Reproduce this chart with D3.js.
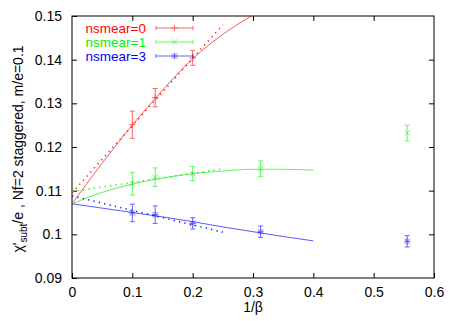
<!DOCTYPE html>
<html>
<head>
<meta charset="utf-8">
<script src="https://cdn.jsdelivr.net/npm/d3@7"></script>
<style>
  body { margin: 0; background: #fff; }
  svg { display: block; }
  text { font-family: "Liberation Sans", Arial, Helvetica, sans-serif; }
</style>
</head>
<body>
<svg width="458" height="321"></svg>
<script>
// data points (1/beta, value, error)
const invBeta = [0.1, 0.1379, 0.2, 0.3125, 0.5556];
const smear0Val = [0.1251, 0.1313, 0.1404];
const smear0Err = [0.0031, 0.0021, 0.0017];
const smear1Val = [0.1116, 0.1131, 0.1139, 0.1150, 0.1232];
const smear1Err = [0.0026, 0.0021, 0.0016, 0.0018, 0.0018];
const smear3Val = [0.1049, 0.1045, 0.1025, 0.1006, 0.0984];
const smear3Err = [0.0020, 0.0020, 0.0013, 0.0013, 0.0013];

// fit curves
const fitX = [0, 0.05, 0.1, 0.15, 0.2, 0.25, 0.3, 0.35, 0.4];
const fit0 = [0.107, 0.1163, 0.1250, 0.1330, 0.1402, 0.1458, 0.1502, 0.1538, 0.157];
const fit1 = [0.107, 0.1096, 0.1115, 0.1129, 0.1139, 0.1145, 0.1149, 0.1149, 0.1147];
const fit3 = [0.107, 0.1060, 0.1050, 0.1040, 0.1029, 0.1017, 0.1006, 0.0995, 0.0985];
const linX = [0, 0.25];
const lin0 = [0.1095, 0.1480];
const lin1 = [0.1098, 0.1150];
const lin3 = [0.1088, 0.1005];

const legendNames = ["nsmear=0", "nsmear=1", "nsmear=3"];
const xTicks = [0, 0.1, 0.2, 0.3, 0.4, 0.5, 0.6];
const yTicks = [0.09, 0.1, 0.11, 0.12, 0.13, 0.14, 0.15];

const chart = () => {
    const margin = { top: 16, right: 24, bottom: 43, left: 72 };
    const width = 458, height = 321;

    const svg = d3.select("svg");

    const x = d3.scaleLinear().domain([0, 0.6]).range([margin.left, width - margin.right]);
    const y = d3.scaleLinear().domain([0.09, 0.15]).range([height - margin.bottom, margin.top]);

    svg.append("clipPath").attr("id", "clip")
      .append("rect")
        .attr("x", x(0)).attr("y", y(0.15))
        .attr("width", x(0.6) - x(0)).attr("height", y(0.09) - y(0.15));

    // axes, gnuplot style: ticks inside, mirrored
    svg.append("g")
        .attr("transform", `translate(0,${y(0.09)})`)
        .call(d3.axisBottom(x).tickValues(xTicks).tickSize(-5).tickPadding(9).tickFormat(d3.format("")))
        .call(g => g.select(".domain").remove());
    svg.append("g")
        .attr("transform", `translate(0,${y(0.15)})`)
        .call(d3.axisTop(x).tickValues(xTicks.slice(1, -1)).tickSize(-5).tickFormat(""))
        .call(g => g.select(".domain").remove());
    svg.append("g")
        .attr("transform", `translate(${x(0)},0)`)
        .call(d3.axisLeft(y).tickValues(yTicks).tickSize(-5).tickPadding(10).tickFormat(d3.format("")))
        .call(g => g.select(".domain").remove());
    svg.append("g")
        .attr("transform", `translate(${x(0.6)},0)`)
        .call(d3.axisRight(y).tickValues(yTicks.slice(1, -1)).tickSize(-5).tickFormat(""))
        .call(g => g.select(".domain").remove());

    svg.selectAll(".tick text").attr("font-size", 14).attr("fill", "#000")
        .style("font-family", "'Liberation Sans', Arial, sans-serif");
    svg.selectAll(".tick line").attr("stroke", "#000");

    svg.append("rect")
        .attr("x", x(0)).attr("y", y(0.15))
        .attr("width", x(0.6) - x(0)).attr("height", y(0.09) - y(0.15))
        .attr("fill", "none").attr("stroke", "#000");

    // axis labels
    svg.append("text")
        .attr("x", x(0.3)).attr("y", 312)
        .attr("text-anchor", "middle").attr("font-size", 14)
        .text("1/β");

    const yl = svg.append("text")
        .attr("transform", `translate(23,${(y(0.09) + y(0.15)) / 2 + 2}) rotate(-90)`)
        .attr("text-anchor", "middle").attr("font-size", 14);
    yl.append("tspan").text("χ'");
    yl.append("tspan").attr("font-size", 10).attr("dy", 4).text("subt");
    yl.append("tspan").attr("dy", -4).text("/e ,  Nf=2 staggered, m/e=0.1");

    const series = [
        { name: legendNames[0], color: "#ff0000", vals: smear0Val, errs: smear0Err, fit: fit0, lin: lin0, sym: "plus" },
        { name: legendNames[1], color: "#00f000", vals: smear1Val, errs: smear1Err, fit: fit1, lin: lin1, sym: "cross" },
        { name: legendNames[2], color: "#0000ff", vals: smear3Val, errs: smear3Err, fit: fit3, lin: lin3, sym: "star" }
    ];

    const symbolPath = (sym, cx, cy) => {
        const s = 3.2, d = 2.6;
        const plus = `M${cx - s},${cy}H${cx + s}M${cx},${cy - s}V${cy + s}`;
        const cross = `M${cx - d},${cy - d}L${cx + d},${cy + d}M${cx - d},${cy + d}L${cx + d},${cy - d}`;
        if (sym === "plus") return plus;
        if (sym === "cross") return cross;
        return plus + cross;
    };

    const line = d3.line().x(d => x(d[0])).y(d => y(d[1])).curve(d3.curveMonotoneX);

    const plot = svg.append("g").attr("clip-path", "url(#clip)");

    series.forEach(s => {
        plot.append("path")
            .attr("d", line(fitX.map((v, i) => [v, s.fit[i]])))
            .attr("fill", "none").attr("stroke", s.color).attr("stroke-width", 1).attr("opacity", 0.65);
        plot.append("path")
            .attr("d", line(linX.map((v, i) => [v, s.lin[i]])))
            .attr("fill", "none").attr("stroke", s.color).attr("stroke-width", 1.6)
            .attr("stroke-dasharray", "1.3,4.2").attr("opacity", 0.85);

        const pts = s.vals.map((v, i) => ({ x: invBeta[i], v: v, e: s.errs[i] }));
        const g = plot.append("g").attr("stroke", s.color).attr("fill", "none").attr("opacity", 0.6);
        g.selectAll("path.err").data(pts).enter().append("path")
            .attr("class", "err")
            .attr("d", d => {
                const cx = x(d.x), t = y(d.v + d.e), b = y(d.v - d.e);
                return `M${cx},${t}V${b}M${cx - 2.5},${t}H${cx + 2.5}M${cx - 2.5},${b}H${cx + 2.5}`;
            });
        g.selectAll("path.sym").data(pts).enter().append("path")
            .attr("class", "sym")
            .attr("d", d => symbolPath(s.sym, x(d.x), y(d.v)));
    });

    // legend
    series.forEach((s, i) => {
        const ly = 28 + i * 14;
        svg.append("text")
            .attr("x", 146).attr("y", ly + 5)
            .attr("text-anchor", "end").attr("font-size", 13.5)
            .attr("fill", s.color).text(s.name);
        const g = svg.append("g").attr("stroke", s.color).attr("fill", "none").attr("opacity", 0.6);
        g.append("path").attr("d", `M156,${ly}H193M156,${ly - 2}V${ly + 2}M193,${ly - 2}V${ly + 2}`);
        g.append("path").attr("d", symbolPath(s.sym, 174.5, ly));
    });
};

chart();
</script>
</body>
</html>
